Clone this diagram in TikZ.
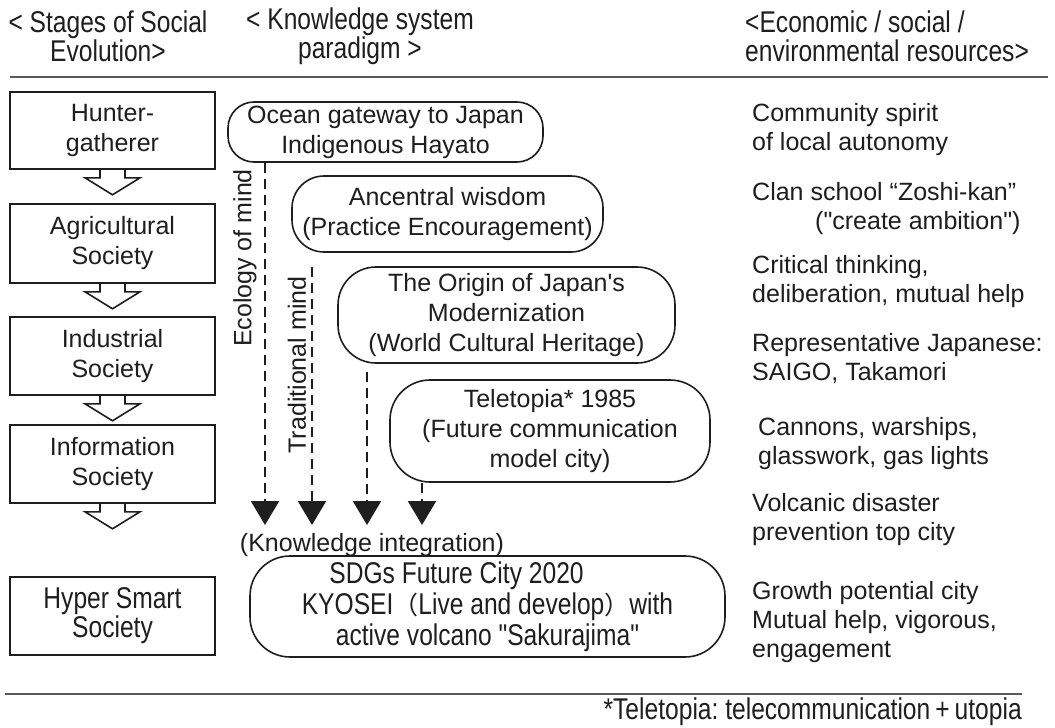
\documentclass[tikz,border=0pt]{standalone}
\usepackage{fontspec}
\usetikzlibrary{arrows.meta,calc}
\newfontfamily\arial{Liberation Sans}
\newfontfamily\narrow[FakeStretch=0.82]{Liberation Sans}
\newfontfamily\cjk{Noto Sans CJK JP}
\definecolor{ink}{HTML}{1E1E1E}
\frenchspacing
\newcommand{\stagearrow}[1]{\draw[blockarr] ($(#1.south)+(-12.5,0)$) -- ++(0,8) -- ++(-15,0) -- ($(#1.south)+(0,25)$) -- ($(#1.south)+(27.5,8)$) -- ++(-15,0) -- ++(0,-8);}
\begin{document}
\begin{tikzpicture}[x=1pt,y=-1pt,
  every node/.style={text=ink, inner sep=0pt},
  reg/.style={font=\arial\fontsize{25}{30}\selectfont},
  regr/.style={font=\arial\fontsize{25}{29}\selectfont},
  nar/.style={font=\narrow\fontsize{30}{29}\selectfont},
  narb/.style={font=\narrow\fontsize{30}{31}\selectfont},
  stage/.style={draw=ink, line width=1.6pt, minimum width=205pt, align=center, reg},
  para/.style={draw=ink, line width=1.6pt, align=center, reg},
  res/.style={regr, anchor=west, align=left},
  blockarr/.style={draw=ink, line width=1.6pt, line join=miter},
  dasharr/.style={draw=ink, line width=2.2pt, dash pattern=on 10pt off 6pt, -{Triangle[length=24pt,width=28pt]}},
  rule/.style={draw=gray!70!black, line width=1.4pt}
]
\useasboundingbox (0,0) rectangle (1055,728);
\fill[white] (0,0) rectangle (1055,728);

% headers
\node[nar, align=center] (hd1) at (108,36) {< Stages of Social\\Evolution>};
\node[nar, align=center] (hd2) at (360,36) {< Knowledge system\\paradigm >};
\node[nar, align=left, anchor=west] (hd3) at (745,36) {<Economic / social /\\environmental resources>};
\draw[rule] (10,77) -- (1048,77);

% stages
\node[stage, minimum height=77pt] (s1) at (112.5,130.5) {Hunter-\\gatherer};
\node[stage, minimum height=79pt] (s2) at (112.5,243.5) {Agricultural\\Society};
\node[stage, minimum height=78pt] (s3) at (112.5,356) {Industrial\\Society};
\node[stage, minimum height=78pt] (s4) at (112.5,464) {Information\\Society};
\node[stage, nar, minimum height=78pt] (s5) at (112.5,616) {Hyper Smart\\Society};
\stagearrow{s1}
\stagearrow{s2}
\stagearrow{s3}
\stagearrow{s4}

% paradigm boxes
\node[para, minimum width=315pt, minimum height=60pt, rounded corners=26pt] (m1) at (385.5,132) {Ocean gateway to Japan\\Indigenous Hayato};
\node[para, minimum width=311pt, minimum height=76pt, rounded corners=32pt] (m2) at (447.5,214) {Ancentral wisdom\\(Practice Encouragement)};
\node[para, minimum width=337pt, minimum height=96pt, rounded corners=38pt] (m3) at (506.5,315) {The Origin of Japan's\\Modernization\\(World Cultural Heritage)};
\node[para, minimum width=320pt, minimum height=102pt, rounded corners=40pt] (m4) at (550,431) {Teletopia* 1985\\(Future communication\\model city)};
\node[para, narb, minimum width=475pt, minimum height=101pt, rounded corners=40pt] (m5) at (487.5,606.5) {SDGs Future City 2020\hspace*{62pt}\\KYOSEI{\cjk\fontsize{25}{31}\selectfont （}Live and develop{\cjk\fontsize{25}{31}\selectfont ）}with\\active volcano "Sakurajima"};

\node[reg] (ki) at (372,545) {(Knowledge integration)};

% dashed arrows
\coordinate (e1) at (265,525);
\coordinate (e2) at (312,525);
\coordinate (e3) at (367,525);
\coordinate (e4) at (422,525);
\coordinate (t2) at (312,267);
\coordinate (t3) at (367,372);
\draw[dasharr] (m1.south -| e1) -- (e1);
\draw[dasharr] (t2) -- (e2);
\draw[dasharr] (t3) -- (e3);
\draw[dasharr] (m4.south -| e4) -- (e4);

\node[reg, rotate=90] (l1) at (245,258) {Ecology of mind};
\node[reg, rotate=90] (l2) at (297,365) {Traditional mind};

% resources
\node[res] (r1) at (752,130) {Community spirit\\of local autonomy};
\node[res] (r2) at (752,209) {Clan school “Zoshi-kan”\\\hspace*{63pt}("create ambition")};
\node[res] (r3) at (752,282) {Critical thinking,\\deliberation, mutual help};
\node[res] (r4) at (752,359) {Representative Japanese:\\SAIGO, Takamori};
\node[res] (r5) at (758,444) {Cannons, warships,\\glasswork, gas lights};
\node[res] (r6) at (752,520) {Volcanic disaster\\prevention top city};
\node[res] (r7) at (752,622) {Growth potential city\\Mutual help, vigorous,\\engagement};

% footnote
\draw[rule] (5,694) -- (1022,694);
\node[nar, anchor=east] (fn) at (1022,712) {*Teletopia: telecommunication\,+\,utopia};
\end{tikzpicture}
\end{document}
